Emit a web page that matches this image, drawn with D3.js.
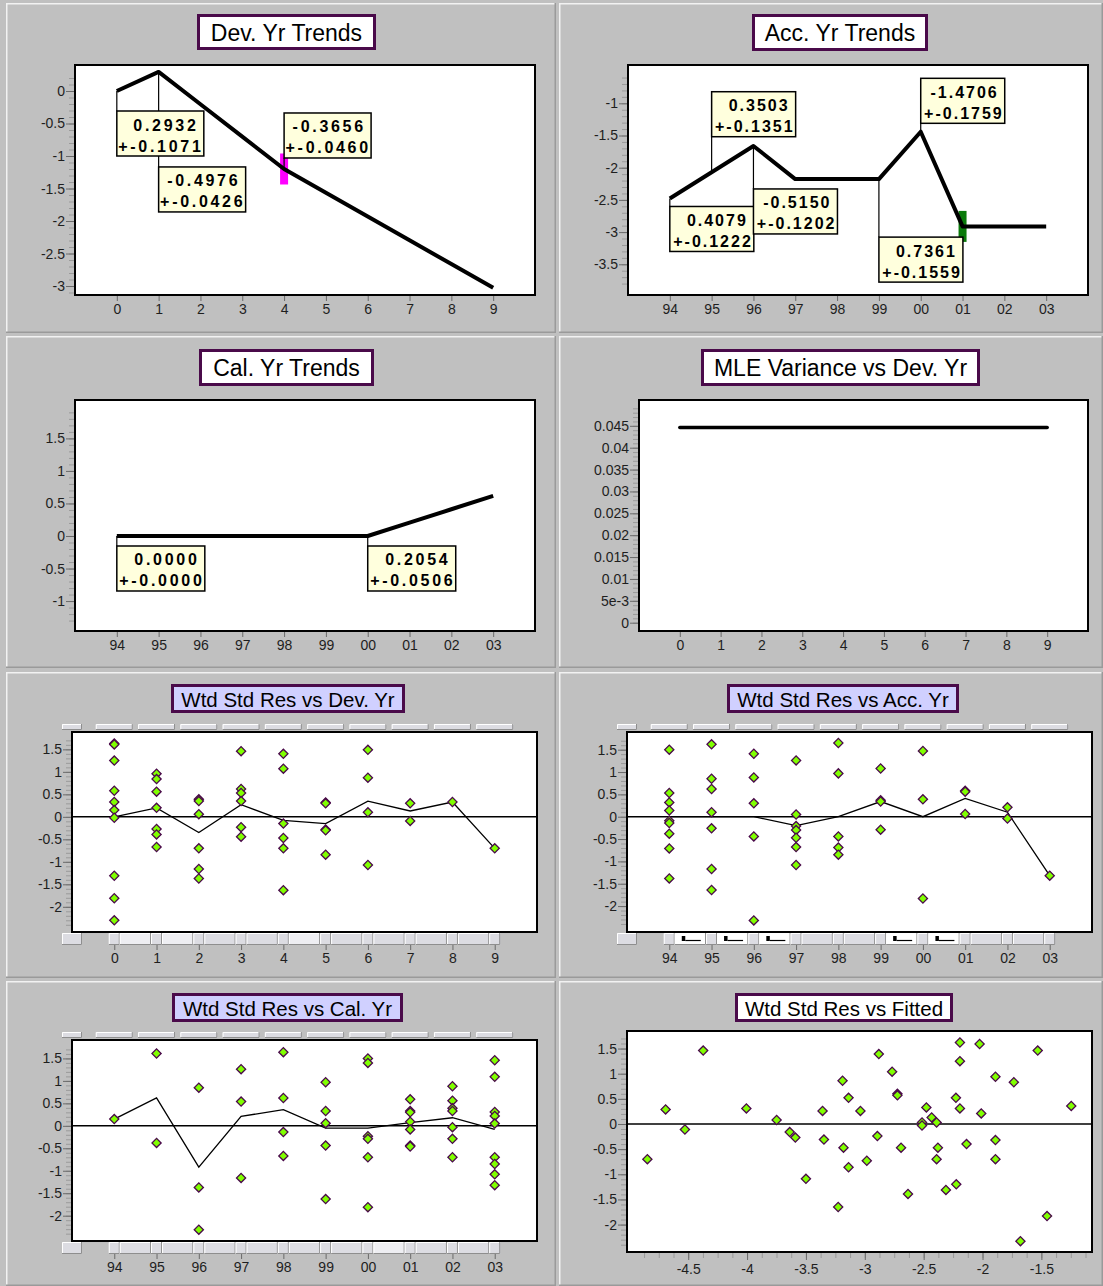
<!DOCTYPE html>
<html>
<head>
<meta charset="utf-8">
<script src="https://cdn.jsdelivr.net/npm/d3@7"></script>
<style>
  body { margin: 0; background: #c0c0c0; }
  svg { display: block; font-family: Arial, "Liberation Sans", sans-serif; }
  .axis text { font-size: 14px; font-family: Arial, "Liberation Sans", sans-serif; fill: #1e1e1e; }
  .note text { font-size: 16px; font-weight: bold; font-family: Arial, "Liberation Sans", sans-serif; fill: #000; }
</style>
</head>
<body>
<script>
// ---------- data ----------
const devLabels  = ["0", "1", "2", "3", "4", "5", "6", "7", "8", "9"];
const yearLabels = ["94", "95", "96", "97", "98", "99", "00", "01", "02", "03"];

// Development-year trend: parameter estimates (+- standard error), each starting at index `at`
const devTrendStart = 0;
const devTrendParams = [
  { at: 0, est: 0.2932, se: 0.1071 },
  { at: 1, est: -0.4976, se: 0.0426 },
  { at: 4, est: -0.3656, se: 0.0460 }
];

// Accident-year levels: starting level, then per-year changes
const accLevelStart = -2.478;
const accTrendParams = [
  { at: 0, est: 0.4079, se: 0.1222 },
  { at: 2, est: -0.5150, se: 0.1202 },
  { at: 3, est: 0 },
  { at: 5, est: 0.7361, se: 0.1559 },
  { at: 6, est: -1.4706, se: 0.1759 },
  { at: 7, est: 0 }
];
const accExtraParam = { at: 1, est: 0.3503, se: 0.1351 };

// Calendar-year trend
const calTrendStart = 0;
const calTrendParams = [
  { at: 0, est: 0.0000, se: 0.0000 },
  { at: 6, est: 0.2054, se: 0.0506 }
];

// MLE variance by development year
const mleVariance = [0.0446, 0.0446, 0.0446, 0.0446, 0.0446, 0.0446, 0.0446, 0.0446, 0.0446, 0.0446];
const mleTickValues = [0, 0.005, 0.01, 0.015, 0.02, 0.025, 0.03, 0.035, 0.04, 0.045];
const mleTickLabels = ["0", "5e-3", "0.01", "0.015", "0.02", "0.025", "0.03", "0.035", "0.04", "0.045"];

// Weighted standardised residuals grouped by development year
const devResiduals = [
  [1.63, 1.61, 1.25, 0.58, 0.33, 0.15, -0.02, -1.31, -1.81, -2.30],
  [0.96, 0.84, 0.56, 0.20, -0.27, -0.39, -0.67],
  [0.39, 0.35, 0.06, -0.70, -1.16, -1.37],
  [1.46, 0.62, 0.53, 0.35, -0.23, -0.44],
  [1.40, 1.07, -0.15, -0.47, -0.70, -1.63],
  [0.32, 0.30, -0.28, -0.30, -0.84],
  [1.49, 0.87, 0.10, -1.07],
  [0.30, -0.09],
  [0.33],
  [-0.70]
];
const devMeans = [0.00, 0.20, -0.35, 0.27, -0.08, -0.15, 0.35, 0.13, 0.33, -0.70];

// ... by accident year
const accResiduals = [
  [1.50, 0.53, 0.32, 0.14, -0.09, -0.14, -0.38, -0.71, -1.38],
  [1.62, 0.85, 0.62, 0.10, -0.26, -1.17, -1.64],
  [1.41, 0.88, 0.30, -0.44, -2.32],
  [1.26, 0.05, -0.21, -0.30, -0.47, -0.68, -1.08],
  [1.65, 0.97, -0.44, -0.69, -0.85],
  [1.08, 0.37, 0.34, -0.29],
  [1.47, 0.39, -1.83],
  [0.58, 0.56, 0.06],
  [0.21, -0.04],
  [-1.32]
];
const accMeans = [0.00, 0.00, 0.00, -0.20, 0.00, 0.34, 0.00, 0.41, 0.10, -1.32];

// ... by calendar year
const calResiduals = [
  [0.15],
  [1.61, -0.38],
  [0.85, -1.37, -2.31],
  [1.26, 0.54, -1.16],
  [1.64, 0.62, -0.14, -0.67],
  [0.97, 0.33, 0.06, -0.44, -1.63],
  [1.50, 1.40, -0.23, -0.29, -0.70, -1.81],
  [0.59, 0.33, 0.30, 0.09, -0.08, -0.44, -0.46],
  [0.88, 0.56, 0.39, 0.33, -0.03, -0.29, -0.70],
  [1.46, 1.09, 0.31, 0.22, 0.05, -0.70, -0.85, -1.08, -1.32]
];
const calMeans = [0.15, 0.62, -0.92, 0.21, 0.36, -0.05, -0.05, 0.07, 0.18, -0.08];

// ... against fitted values
const fittedValues = [-4.847, -4.692, -4.528, -4.373, -4.006, -3.749, -3.638, -3.590, -3.500, -3.359,
  -3.347, -3.226, -3.189, -3.181, -3.138, -3.138, -3.037, -2.983, -2.893, -2.881,
  -2.768, -2.723, -2.723, -2.692, -2.633, -2.514, -2.514, -2.477, -2.432, -2.390,
  -2.379, -2.390, -2.311, -2.226, -2.223, -2.192, -2.192, -2.192, -2.136, -2.025,
  -2.011, -1.890, -1.890, -1.890, -1.734, -1.678, -1.531, -1.452, -1.246];
const fittedResiduals = [-0.70, 0.29, -0.11, 1.46, 0.31, 0.08, -0.16, -0.27, -1.09, 0.26,
  -0.31, -1.65, 0.86, -0.47, 0.52, -0.86, 0.26, -0.73, -0.24, 1.39,
  1.04, 0.60, 0.57, -0.47, -1.39, 0.03, -0.03, 0.33, 0.13, 0.03,
  -0.47, -0.70, -1.31, 0.52, -1.20, 1.62, 1.25, 0.31, -0.40, 1.59,
  0.21, 0.94, -0.32, -0.70, 0.83, -2.33, 1.46, -1.83, 0.36];
const fittedTickValues = [-4.5, -4, -3.5, -3, -2.5, -2, -1.5];
const fittedTickLabels = ["-4.5", "-4", "-3.5", "-3", "-2.5", "-2", "-1.5"];

// y tick values and their labels, top to bottom
const devTickValues = [0, -0.5, -1, -1.5, -2, -2.5, -3];
const devTickLabels = ["0", "-0.5", "-1", "-1.5", "-2", "-2.5", "-3"];
const accTickValues = [-1, -1.5, -2, -2.5, -3, -3.5];
const accTickLabels = ["-1", "-1.5", "-2", "-2.5", "-3", "-3.5"];
const calTickValues = [1.5, 1, 0.5, 0, -0.5, -1];
const calTickLabels = ["1.5", "1", "0.5", "0", "-0.5", "-1"];
const resTickValues = [1.5, 1, 0.5, 0, -0.5, -1, -1.5, -2];
const resTickLabels = ["1.5", "1", "0.5", "0", "-0.5", "-1", "-1.5", "-2"];

// ---------- layout ----------
const W = 1103, H = 1286;
const svg = d3.select("body").append("svg").attr("width", W).attr("height", H);

const panelFrames = [
  [6, 3, 556, 333], [559, 3, 1103, 333],
  [6, 336, 556, 668], [559, 336, 1103, 668],
  [6, 672, 556, 978], [559, 672, 1103, 978],
  [6, 981, 556, 1286], [559, 981, 1103, 1286]
];
panelFrames.forEach(([x0, y0, x1, y1]) => {
  svg.append("rect").attr("x", x0).attr("y", y0).attr("width", x1 - x0).attr("height", y1 - y0).attr("fill", "#c0c0c0");
  svg.append("path").attr("d", `M${x0 + 0.75},${y1}V${y0 + 0.75}H${x1}`)
    .attr("fill", "none").attr("stroke", "#f2f2f2").attr("stroke-width", 1.5);
  svg.append("path").attr("d", `M${x0},${y1 - 0.75}H${x1 - 0.75}V${y0}`)
    .attr("fill", "none").attr("stroke", "#9a9a9a").attr("stroke-width", 1.5);
});

const titles = [
  { text: "Dev. Yr Trends", x: 197, y: 14, w: 179, h: 36, fill: "#ffffff", size: 23 },
  { text: "Acc. Yr Trends", x: 752, y: 14, w: 176, h: 37, fill: "#ffffff", size: 23 },
  { text: "Cal. Yr Trends", x: 199, y: 349, w: 175, h: 37, fill: "#ffffff", size: 23 },
  { text: "MLE Variance vs Dev. Yr", x: 701, y: 349, w: 279, h: 37, fill: "#ffffff", size: 23 },
  { text: "Wtd Std Res vs Dev. Yr", x: 171, y: 684, w: 234, h: 29, fill: "#d0d0ff", size: 20.5 },
  { text: "Wtd Std Res vs Acc. Yr", x: 727, y: 684, w: 232, h: 29, fill: "#d0d0ff", size: 20.5 },
  { text: "Wtd Std Res vs Cal. Yr", x: 172, y: 993, w: 231, h: 29, fill: "#d0d0ff", size: 20.5 },
  { text: "Wtd Std Res vs Fitted", x: 735, y: 993, w: 218, h: 29, fill: "#ffffff", size: 20.5 }
];
titles.forEach(t => {
  svg.append("rect").attr("x", t.x + 1.5).attr("y", t.y + 1.5).attr("width", t.w - 3).attr("height", t.h - 3)
    .attr("fill", t.fill).attr("stroke", "#4a0a4a").attr("stroke-width", 3);
  svg.append("text").attr("x", t.x + t.w / 2).attr("y", t.y + t.h / 2 + 0.5)
    .attr("text-anchor", "middle").attr("dominant-baseline", "central")
    .attr("font-size", t.size).attr("fill", "#000").text(t.text);
});

const plots = {
  dev: { x0: 75, x1: 535, y0: 65, y1: 295, xd: [-1, 10], yd: [0.4, -3.138] },
  acc: { x0: 628, x1: 1088, y0: 65, y1: 295, xd: [-1, 10], yd: [-0.405, -3.977] },
  cal: { x0: 75, x1: 535, y0: 400, y1: 631, xd: [-1, 10], yd: [2.09, -1.46] },
  mle: { x0: 639, x1: 1088, y0: 400, y1: 631, xd: [-1, 10], yd: [0.0509, -0.0019] },
  rDev: { x0: 72, x1: 537, y0: 732, y1: 932, xd: [-1, 10], yd: [1.886, -2.56] },
  rAcc: { x0: 627, x1: 1092, y0: 732, y1: 932, xd: [-1, 10], yd: [1.896, -2.58] },
  rCal: { x0: 72, x1: 537, y0: 1040, y1: 1241, xd: [-1, 10], yd: [1.91, -2.563] },
  rFit: { x0: 627, x1: 1092, y0: 1031, y1: 1252, xd: [-5.02, -1.07], yd: [1.849, -2.545] }
};

function makePlot(c) {
  const x = d3.scaleLinear().domain(c.xd).range([c.x0, c.x1]);
  const y = d3.scaleLinear().domain(c.yd).range([c.y0, c.y1]);
  const g = svg.append("g");
  g.append("rect").attr("x", c.x0).attr("y", c.y0).attr("width", c.x1 - c.x0).attr("height", c.y1 - c.y0).attr("fill", "#fff");
  const body = g.append("g");
  return { x, y, g, body, c };
}
function closeBox(p) {
  p.g.append("rect").attr("x", p.c.x0).attr("y", p.c.y0).attr("width", p.c.x1 - p.c.x0).attr("height", p.c.y1 - p.c.y0)
    .attr("fill", "none").attr("stroke", "#000").attr("stroke-width", 2);
}
function steps(lo, hi, step) {
  const n = Math.round((hi - lo) / step);
  return d3.range(n + 1).map(i => +(lo + i * step).toFixed(6));
}
function yAxis(p, majors, labels, minors) {
  const gm = p.g.append("g").attr("class", "axis").attr("transform", `translate(${p.c.x0 - 1},0)`)
    .call(d3.axisLeft(p.y).tickValues(minors).tickSize(5).tickFormat(""));
  gm.select(".domain").remove();
  gm.selectAll("line").attr("stroke", "#9a9a9a");
  const gM = p.g.append("g").attr("class", "axis").attr("transform", `translate(${p.c.x0 - 1},0)`)
    .call(d3.axisLeft(p.y).tickValues(majors).tickSize(8).tickPadding(1).tickFormat((d, i) => labels[i]));
  gM.select(".domain").remove();
  gM.selectAll("line").attr("stroke", "#6a6a6a");
}
function xAxis(p, vals, labels, yPos, size, pad) {
  const ga = p.g.append("g").attr("class", "axis").attr("transform", `translate(0,${yPos})`)
    .call(d3.axisBottom(p.x).tickValues(vals).tickSize(size).tickPadding(pad).tickFormat((d, i) => labels[i]));
  ga.select(".domain").remove();
  ga.selectAll("line").attr("stroke", "#6a6a6a");
  return ga;
}
function trendLevels(start, params, n) {
  const out = [start];
  for (let i = 1; i < n; i++) {
    const active = params.filter(q => q.at <= i - 1);
    const p = active[active.length - 1];
    out.push(out[i - 1] + (p ? p.est : 0));
  }
  return out;
}
const idx = d3.range(10);

// annotation box: estimate on the first line, +- standard error on the second
function noteBoxes(p, levels, notes, layer) {
  const conn = layer.append("g");
  const boxes = layer.append("g").attr("class", "note");
  notes.forEach(n => {
    const px = p.x(n.at), py = p.y(levels[n.at]);
    const top = py + n.dy, h = 45;
    const yEnd = n.dy > 0 ? top : top + h;
    conn.append("line").attr("x1", px).attr("x2", px).attr("y1", py).attr("y2", yEnd)
      .attr("stroke", "#000").attr("stroke-width", 1.2);
    const b = boxes.append("g").attr("transform", `translate(${px},${top})`);
    b.append("rect").attr("width", n.w).attr("height", h).attr("fill", "#ffffdd").attr("stroke", "#000").attr("stroke-width", 1.5);
    const xr = n.w - 3 + n.ls;
    b.append("text").attr("x", xr - 5).attr("y", 19.5).attr("text-anchor", "end").style("letter-spacing", n.ls + "px")
      .text(n.est.toFixed(4));
    b.append("text").attr("x", xr).attr("y", 40.5).attr("text-anchor", "end").style("letter-spacing", n.ls + "px")
      .text("+-" + n.se.toFixed(4));
  });
}
function marker(p, at, level, color) {
  p.body.append("rect").attr("x", p.x(at) - 4).attr("y", p.y(level) - 15.5).attr("width", 8).attr("height", 31).attr("fill", color);
}
const trendLine = (p) => d3.line().x((d, i) => p.x(i)).y(d => p.y(d));

// ---------- Dev. Yr Trends ----------
{
  const p = makePlot(plots.dev);
  const lv = trendLevels(devTrendStart, devTrendParams, 10);
  marker(p, 4, lv[4], "#ff00ff");
  p.body.append("path").datum(lv).attr("d", trendLine(p)).attr("fill", "none").attr("stroke", "#000")
    .attr("stroke-width", 4).attr("stroke-linejoin", "round");
  const offsets = [20, 95, -56];
  noteBoxes(p, lv, devTrendParams.map((d, i) => ({ ...d, dy: offsets[i], w: 87, ls: 2.7 })), p.body.append("g"));
  yAxis(p, devTickValues, devTickLabels, steps(-3.1, 0.2, 0.1));
  xAxis(p, idx, devLabels, plots.dev.y1, 6, 3);
  closeBox(p);
}

// ---------- Acc. Yr Trends ----------
{
  const p = makePlot(plots.acc);
  const lv = trendLevels(accLevelStart, accTrendParams, 10);
  marker(p, 7, lv[7], "#0a7a0a");
  p.body.append("path").datum(lv).attr("d", trendLine(p)).attr("fill", "none").attr("stroke", "#000")
    .attr("stroke-width", 4).attr("stroke-linejoin", "round");
  const labelled = [
    { ...accTrendParams[0], dy: 8 },
    { ...accExtraParam, dy: -80.5 },
    { ...accTrendParams[1], dy: 43 },
    { ...accTrendParams[3], dy: 58 },
    { ...accTrendParams[4], dy: -53.4 }
  ].map(d => ({ ...d, w: 84, ls: 2.0 }));
  noteBoxes(p, lv, labelled, p.body.append("g"));
  yAxis(p, accTickValues, accTickLabels, steps(-3.8, -0.6, 0.1));
  xAxis(p, idx, yearLabels, plots.acc.y1, 6, 3);
  closeBox(p);
}

// ---------- Cal. Yr Trends ----------
{
  const p = makePlot(plots.cal);
  const lv = trendLevels(calTrendStart, calTrendParams, 10);
  p.body.append("path").datum(lv).attr("d", trendLine(p)).attr("fill", "none").attr("stroke", "#000")
    .attr("stroke-width", 4).attr("stroke-linejoin", "round");
  noteBoxes(p, lv, calTrendParams.map(d => ({ ...d, dy: 10, w: 88, ls: 2.7 })), p.body.append("g"));
  yAxis(p, calTickValues, calTickLabels, steps(-1.3, 1.9, 0.1));
  xAxis(p, idx, yearLabels, plots.cal.y1, 6, 3);
  closeBox(p);
}

// ---------- MLE Variance vs Dev. Yr ----------
{
  const p = makePlot(plots.mle);
  p.body.append("path").datum(mleVariance).attr("d", trendLine(p)).attr("fill", "none").attr("stroke", "#000")
    .attr("stroke-width", 3.5).attr("stroke-linecap", "round");
  yAxis(p, mleTickValues, mleTickLabels, steps(0, 0.049, 0.001));
  xAxis(p, idx, devLabels, plots.mle.y1, 6, 3);
  closeBox(p);
}

// ---------- residual panels ----------
function button(g, x, y, w, h, fill) {
  g.append("rect").attr("x", x).attr("y", y).attr("width", w).attr("height", h).attr("fill", fill || "#dcdce2");
  g.append("path").attr("d", `M${x + 0.5},${y + h}V${y + 0.5}H${x + w}`).attr("fill", "none").attr("stroke", "#ffffff");
  g.append("path").attr("d", `M${x},${y + h - 0.5}H${x + w - 0.5}V${y}`).attr("fill", "none").attr("stroke", "#8e8e8e");
}
function buttonRows(p, cellStyle) {
  const g = svg.append("g");
  const c = p.c;
  button(g, c.x0 - 10, c.y0 - 8, 20, 6);
  idx.forEach(i => button(g, p.x(i) - 18.5, c.y0 - 8, 37, 6));
  const by = c.y1 + 1, bh = 12;
  button(g, c.x0 - 10, by, 20, bh);
  idx.forEach(i => {
    button(g, p.x(i) - 5.5, by, 11, bh);
    if (i < 9) {
      const x0 = p.x(i) + 5.5, w = p.x(i + 1) - p.x(i) - 11;
      const s = cellStyle[i];
      button(g, x0, by, w, bh, s === 1 ? "#eeeef2" : s === 2 ? "#ffffff" : "#dcdce2");
      if (s === 2) {
        g.append("rect").attr("x", x0 + 7).attr("y", by + 3).attr("width", 3.5).attr("height", 5).attr("fill", "#000");
        g.append("line").attr("x1", x0 + 10.5).attr("x2", x0 + 26).attr("y1", by + 7.5).attr("y2", by + 7.5)
          .attr("stroke", "#000").attr("stroke-width", 1.2);
      }
    }
  });
}
const diamond = d3.symbol(d3.symbolSquare, 42)();
function residuals(p, points, means) {
  p.body.append("line").attr("x1", p.c.x0).attr("x2", p.c.x1).attr("y1", p.y(0)).attr("y2", p.y(0))
    .attr("stroke", "#000").attr("stroke-width", 1.5);
  if (means) {
    p.body.append("path").datum(means).attr("d", trendLine(p)).attr("fill", "none").attr("stroke", "#000").attr("stroke-width", 1.3);
  }
  p.body.selectAll("path.pt").data(points).join("path").attr("class", "pt").attr("d", diamond)
    .attr("transform", d => `translate(${p.x(d[0])},${p.y(d[1])}) rotate(45)`)
    .attr("fill", "#80ff00").attr("stroke", "#4a0a4a").attr("stroke-width", 1.3);
}
const groupPoints = grp => grp.flatMap((arr, i) => arr.map(v => [i, v]));
const resMinors = steps(-2.4, 1.7, 0.1);

{
  const p = makePlot(plots.rDev);
  buttonRows(p, [1, 1, 0, 0, 1, 0, 0, 0, 0]);
  residuals(p, groupPoints(devResiduals), devMeans);
  yAxis(p, resTickValues, resTickLabels, resMinors);
  xAxis(p, idx, devLabels, plots.rDev.y1 + 13, 5, 3);
  closeBox(p);
}
{
  const p = makePlot(plots.rAcc);
  buttonRows(p, [2, 2, 2, 0, 0, 2, 2, 0, 0]);
  residuals(p, groupPoints(accResiduals), accMeans);
  yAxis(p, resTickValues, resTickLabels, resMinors);
  xAxis(p, idx, yearLabels, plots.rAcc.y1 + 13, 5, 3);
  closeBox(p);
}
{
  const p = makePlot(plots.rCal);
  buttonRows(p, [0, 0, 0, 0, 0, 0, 1, 0, 0]);
  residuals(p, groupPoints(calResiduals), calMeans);
  yAxis(p, resTickValues, resTickLabels, resMinors);
  xAxis(p, idx, yearLabels, plots.rCal.y1 + 13, 5, 3);
  closeBox(p);
}
{
  const p = makePlot(plots.rFit);
  residuals(p, fittedValues.map((f, i) => [f, fittedResiduals[i]]), null);
  yAxis(p, resTickValues, resTickLabels, resMinors);
  const gm = p.g.append("g").attr("transform", `translate(0,${plots.rFit.y1 + 1})`)
    .call(d3.axisBottom(p.x).tickValues(steps(-4.875, -1.125, 0.125)).tickSize(5).tickFormat(""));
  gm.select(".domain").remove();
  gm.selectAll("line").attr("stroke", "#9a9a9a");
  xAxis(p, fittedTickValues, fittedTickLabels, plots.rFit.y1 + 1, 7, 4);
  closeBox(p);
}
</script>
</body>
</html>
